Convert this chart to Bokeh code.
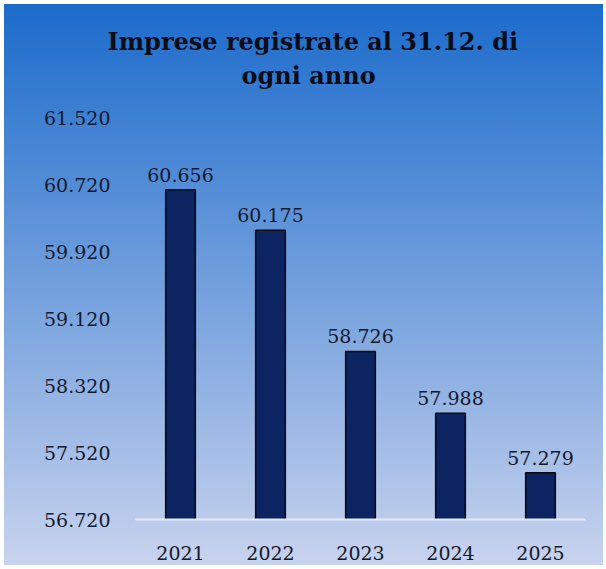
from bokeh.plotting import figure
from bokeh.models import ColumnDataSource, FixedTicker, Range1d, Title
from bokeh.embed import file_html
from bokeh.resources import INLINE
from bokeh.core.properties import value

years = ["2021", "2022", "2023", "2024", "2025"]
imprese = [60656, 60175, 58726, 57988, 57279]
y_ticks = [56720, 57520, 58320, 59120, 59920, 60720, 61520]
title_lines = ["Imprese registrate al 31.12. di", "ogni anno"]

def fmt(v):
    return f"{v:,}".replace(",", ".")

FONT = "DejaVu Serif"
TXT = "#141a2e"

src = ColumnDataSource(dict(x=years, top=imprese, lab=[fmt(v) for v in imprese]))

p = figure(x_range=years, y_range=Range1d(y_ticks[0], y_ticks[-1]),
           width=599, height=561, output_backend="svg", toolbar_location=None,
           min_border_left=131, min_border_right=18, min_border_top=113, min_border_bottom=46)
p.title = None
p.styles = {"background": "linear-gradient(to bottom, #1b6bcb 0%, #c8d3ee 100%)",
            "margin": "4px 0 0 4px"}
p.border_fill_color = None
p.background_fill_color = None
p.outline_line_color = None

# near-invisible spacer between frame and title (panels stack outward from the frame)
p.add_layout(Title(text=".", text_font_size="2px", text_alpha=0.01, text_color="#6f9fdb",
                   standoff=22), "above")
p.add_layout(Title(text=title_lines[1], align="left", offset=106, text_font=FONT,
                   text_font_size="24px", text_font_style="bold", text_color="#0a0c18",
                   standoff=6), "above")
p.add_layout(Title(text=title_lines[0], align="left", offset=-28, text_font=FONT,
                   text_font_size="24px", text_font_style="bold", text_color="#0a0c18",
                   standoff=0), "above")

p.vbar(x="x", top="top", bottom=y_ticks[0], width=0.33, source=src,
       fill_color="#0c2462", line_color="#05080f", line_width=1.5)
p.text(x="x", y="top", text="lab", source=src, text_align="center", text_baseline="bottom",
       y_offset=-8, text_font=value(FONT), text_font_size="19px", text_color=TXT)

p.xgrid.grid_line_color = None
p.ygrid.grid_line_color = None

p.yaxis.ticker = FixedTicker(ticks=y_ticks)
p.yaxis.major_label_overrides = {t: fmt(t) for t in y_ticks}
p.yaxis.axis_line_color = None
p.yaxis.major_tick_line_color = None
p.yaxis.minor_tick_line_color = None
p.yaxis.major_label_standoff = 19
p.yaxis.major_label_text_font = FONT
p.yaxis.major_label_text_font_size = "19px"
p.yaxis.major_label_text_color = TXT

p.xaxis.axis_line_color = "#e4eaf5"
p.xaxis.axis_line_width = 2
p.xaxis.major_tick_line_color = None
p.xaxis.minor_tick_line_color = None
p.xaxis.major_label_standoff = 20
p.xaxis.major_label_text_font = FONT
p.xaxis.major_label_text_font_size = "19px"
p.xaxis.major_label_text_color = TXT

open("out.html", "w").write(file_html(p, INLINE))
